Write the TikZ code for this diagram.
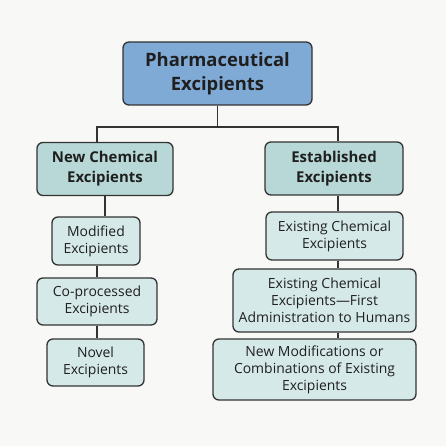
\documentclass[tikz,border=0pt]{standalone}
\usepackage{fontspec}
\setmainfont{Open Sans}
\begin{document}
\begin{tikzpicture}[x=1bp,y=-1bp,
  box/.style={draw=black!80, line width=1.3bp, rounded corners=6bp, align=center, inner sep=0pt, text=black!88},
  rootbox/.style={box, fill=rootblue, minimum width=189bp, minimum height=63bp, font=\fontsize{18.5}{24}\selectfont\bfseries},
  lvlbox/.style={box, fill=tealmid, minimum height=53bp, font=\fontsize{15}{20}\selectfont\bfseries},
  subbox/.style={box, fill=teallight, font=\fontsize{14}{17}\selectfont},
  conn/.style={draw=black!80, line width=1.3bp}]
\definecolor{rootblue}{RGB}{128,170,214}
\definecolor{tealmid}{RGB}{183,216,214}
\definecolor{teallight}{RGB}{214,233,233}
\definecolor{bgc}{RGB}{248,248,246}
\fill[bgc] (0,0) rectangle (446,446);
\useasboundingbox (0,0) rectangle (446,446);
% nodes
\node[rootbox] (root) at (217.5,73.5) {Pharmaceutical\\Excipients};
\node[lvlbox, minimum width=136bp] (nce) at (105,169) {New Chemical\\Excipients};
\node[lvlbox, minimum width=138bp] (est) at (334,168.5) {Established\\Excipients};
\node[subbox, minimum width=88bp, minimum height=48bp] (mod) at (96,241) {Modified\\Excipients};
\node[subbox, minimum width=120bp, minimum height=47bp] (cop) at (97,301.5) {Co-processed\\Excipients};
\node[subbox, minimum width=97bp, minimum height=47bp] (nov) at (95.5,362.5) {Novel\\Excipients};
\node[subbox, minimum width=137bp, minimum height=48bp] (ece) at (334.5,236) {Existing Chemical\\Excipients};
\node[subbox, minimum width=183bp, minimum height=63bp] (ecf) at (324.5,300.5) {Existing Chemical\\Excipients—First\\Administration to Humans};
\node[subbox, minimum width=203bp, minimum height=61bp] (nmc) at (314.5,369.5) {New Modifications or\\Combinations of Existing\\Excipients};
% connector helpers
\coordinate (bus) at (217.5,127);
\coordinate (lx) at (97,0);
\coordinate (rx) at (338,0);
\draw[conn] (root.south) -- (bus);
\draw[conn] (nce.north -| lx) -- (bus -| lx) -- (bus -| rx) -- (est.north -| rx);
\draw[conn] (nce.south) -- (mod.north -| nce.south);
\draw[conn] (mod.south -| lx) -- (cop.north -| lx);
\draw[conn] (cop.south -| lx) -- (nov.north -| lx);
\draw[conn] (est.south -| rx) -- (ece.north -| rx);
\draw[conn] (ece.south -| rx) -- (ecf.north -| rx);
\draw[conn] (ecf.south -| rx) -- (nmc.north -| rx);
\end{tikzpicture}
\end{document}
